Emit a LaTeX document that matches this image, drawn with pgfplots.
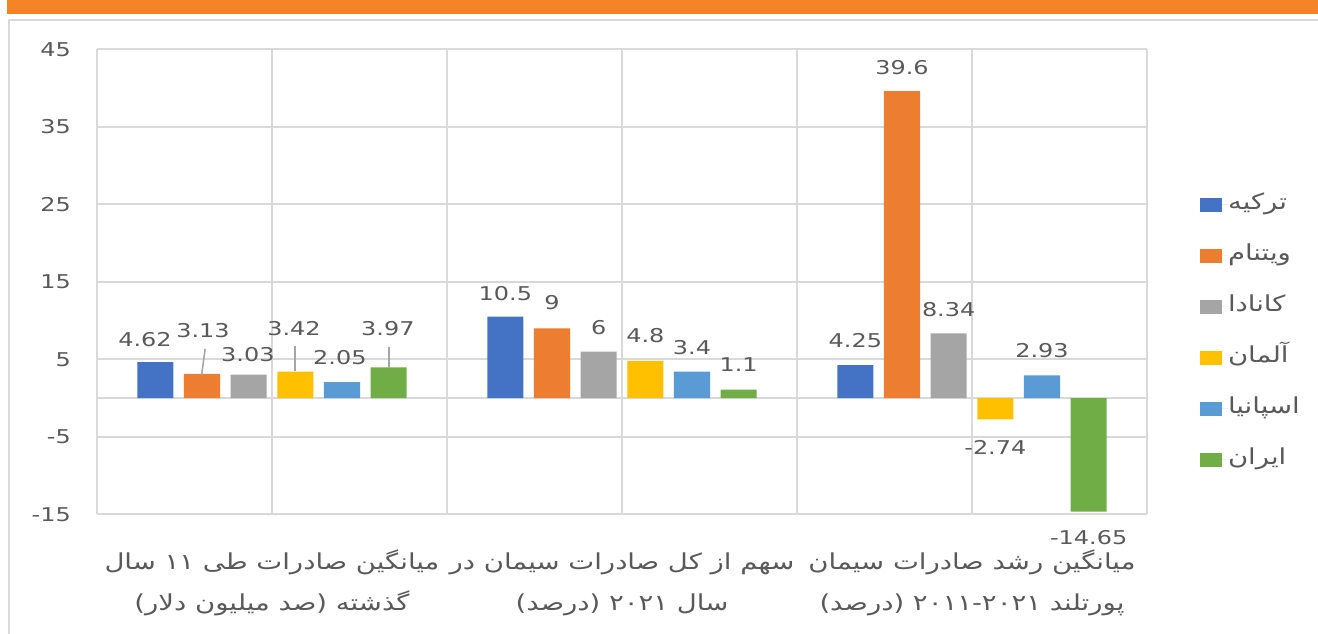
\documentclass[border=0pt]{standalone}
\usepackage{pgfplots}
\pgfplotsset{compat=1.18}
\usepackage{fontspec}
\setmainfont{DejaVu Sans}[FakeStretch=1.26]
\newfontfamily\fa[Script=Arabic,FakeStretch=1.25]{DejaVu Sans}
\TeXXeTstate=1
\definecolor{lbl}{HTML}{595959}
\definecolor{gridc}{HTML}{D9D9D9}
\definecolor{leader}{HTML}{A6A6A6}
\definecolor{banner}{HTML}{F58426}
\definecolor{c1}{HTML}{4472C4}
\definecolor{c2}{HTML}{ED7D31}
\definecolor{c3}{HTML}{A5A5A5}
\definecolor{c4}{HTML}{FFC000}
\definecolor{c5}{HTML}{5B9BD5}
\definecolor{c6}{HTML}{70AD47}
\pgfplotsset{
  sq/.style={legend image code/.code={\fill[##1] (0bp,-7.2bp) rectangle (21.5bp,7.2bp); \path (0bp,0bp) -- (28bp,0bp);}},
}
\begin{document}
\begin{tikzpicture}[x=1bp,y=1bp]
\fill[banner] (-90,500.3) rectangle (1230,520);
\draw[gridc, line width=2bp] (-87.5,-140) -- (-87.5,494.3) -- (1240,494.3);
\begin{axis}[
  width=1050bp, height=465bp, scale only axis, clip=false,
  xmin=-0.5, xmax=2.5, ymin=-15, ymax=45,
  ytick={-15,-5,5,15,25,35,45},
  xtick={0,1,2},
  xticklabels={
    {\rule{0pt}{24bp}\beginR میانگین صادرات طی ۱۱ سال\endR\\\beginR گذشته (صد میلیون دلار)\endR},
    {\rule{0pt}{24bp}\beginR سهم از کل صادرات سیمان در\endR\\\beginR سال ۲۰۲۱ (درصد)\endR},
    {\rule{0pt}{24bp}\beginR میانگین رشد صادرات سیمان\endR\\\beginR پورتلند ۲۰۱۱{}-{}۲۰۲۱ (درصد)\endR}},
  extra x ticks={-0.5,0.5,1.5,2.5}, extra x tick labels={},
  extra y ticks={0}, extra y tick labels={},
  extra tick style={grid=major},
  grid=major, grid style={draw=gridc, line width=1.6bp},
  axis line style={draw=none},
  major tick length=0pt,
  /pgf/number format/assume math mode=true,
  yticklabel style={font=\fontsize{19bp}{22bp}\selectfont, text=lbl, inner sep=0pt, anchor=east, xshift=-26bp},
  xticklabel style={font=\fa\fontsize{22bp}{41bp}\selectfont, text=lbl, align=center, inner sep=0pt, anchor=north, yshift=-31bp},
  legend style={at={(1.0505,0.3915)}, anchor=west, draw=none, fill=none, inner sep=0pt, outer sep=0pt,
    row sep=32bp, column sep=0pt,
    nodes={inner sep=0pt, text height=14bp, text depth=5bp, text=lbl, font=\fa\fontsize{22bp}{26bp}\selectfont},
    cells={anchor=west}},
]
\addplot[ybar, bar width=0.103, bar shift=-0.3333, fill=c1, draw=none, sq] coordinates {(0,4.62) (1,10.5) (2,4.25)};
\addlegendentry{\beginR ترکیه\endR}
\addplot[ybar, bar width=0.103, bar shift=-0.2, fill=c2, draw=none, sq] coordinates {(0,3.13) (1,9) (2,39.6)};
\addlegendentry{\beginR ویتنام\endR}
\addplot[ybar, bar width=0.103, bar shift=-0.0667, fill=c3, draw=none, sq] coordinates {(0,3.03) (1,6) (2,8.34)};
\addlegendentry{\beginR کانادا\endR}
\addplot[ybar, bar width=0.103, bar shift=0.0667, fill=c4, draw=none, sq] coordinates {(0,3.42) (1,4.8) (2,-2.74)};
\addlegendentry{\beginR آلمان\endR}
\addplot[ybar, bar width=0.103, bar shift=0.2, fill=c5, draw=none, sq] coordinates {(0,2.05) (1,3.4) (2,2.93)};
\addlegendentry{\beginR اسپانیا\endR}
\addplot[ybar, bar width=0.103, bar shift=0.3333, fill=c6, draw=none, sq] coordinates {(0,3.97) (1,1.1) (2,-14.65)};
\addlegendentry{\beginR ایران\endR}
% leader lines
\addplot[forget plot, draw=leader, line width=1.6bp] coordinates {(-0.191,6.35) (-0.201,2.99)};
\addplot[forget plot, draw=leader, line width=1.6bp] coordinates {(0.066,6.77) (0.066,3.46)};
\addplot[forget plot, draw=leader, line width=1.6bp] coordinates {(0.334,6.65) (0.334,3.9)};
% data labels
\addplot[forget plot, draw=none, mark=none, nodes near coords, point meta=explicit symbolic,
  nodes near coords style={anchor=center, inner sep=0pt, font=\fontsize{19bp}{22bp}\selectfont, text=lbl}]
  table[meta=lab, row sep=\\] {
x y lab\\
-0.363 7.51 4.62\\
-0.197 8.70 3.13\\
-0.069 5.61 3.03\\
0.063 9.01 3.42\\
0.194 5.23 2.05\\
0.331 8.94 3.97\\
0.6667 13.48 10.5\\
0.8 12.3 9\\
0.9333 9.13 6\\
1.0667 8.06 4.8\\
1.2 6.55 3.4\\
1.3333 4.29 1.1\\
1.6667 7.38 4.25\\
1.8 42.6 39.6\\
1.9333 11.45 8.34\\
2.0667 -6.35 -2.74\\
2.2 6.09 2.93\\
2.3333 -18.06 -14.65\\
};
\end{axis}
\pgfresetboundingbox
\path[use as bounding box] (-97,514.3) rectangle (1221,-119.7);
\end{tikzpicture}
\end{document}
